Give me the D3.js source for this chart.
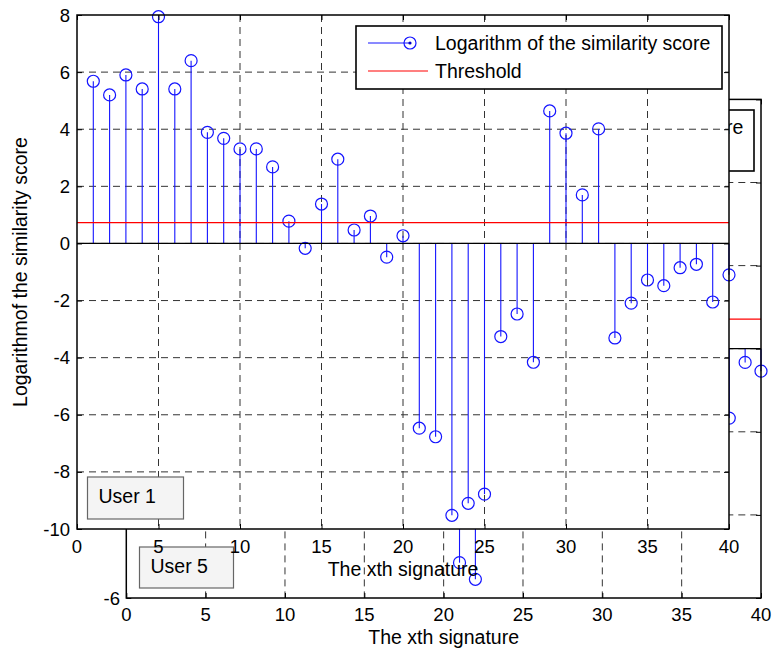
<!DOCTYPE html>
<html>
<head>
<meta charset="utf-8">
<script src="https://cdn.jsdelivr.net/npm/d3@7"></script>
<style>
  body { margin: 0; background: #fff; }
  svg { display: block; font-family: "Liberation Sans", Arial, Helvetica, sans-serif; }
  .grid line { stroke: #333; stroke-width: 1; stroke-dasharray: 7,5; }
  .tk text { font-size: 18.5px; fill: #000; }
  .tk path { display: none; }
  .tk line { stroke: #000; }
</style>
</head>
<body>
<svg id="chart" width="772" height="649"></svg>
<script>
// signature numbers and the log similarity scores (front figure, User 1)
var signatures = [1,2,3,4,5,6,7,8,9,10,11,12,13,14,15,16,17,18,19,20,
                  21,22,23,24,25,26,27,28,29,30,31,32,33,34,35,36,37,38,39,40];
var userOneScores = [5.68, 5.2, 5.9, 5.41, 7.94, 5.41, 6.4, 3.89, 3.68, 3.31,
                     3.31, 2.68, 0.78, -0.17, 1.38, 2.95, 0.47, 0.96, -0.48, 0.27,
                     -6.47, -6.77, -9.52, -9.1, -8.78, -3.26, -2.47, -4.16, 4.64, 3.86,
                     1.7, 4.01, -3.31, -2.09, -1.28, -1.48, -0.85, -0.73, -2.05, -1.1];
var userOneThreshold = 0.73;

// back figure (User 5): only the stems that show around the front figure
var userFiveSigs = [21, 22, 38, 39, 40];
var userFiveScores = [-5.15, -5.55, -1.67, -0.33, -0.54];
var userFiveThreshold = 0.71;

var xTicks = [0,5,10,15,20,25,30,35,40];
var yTicksOne = [-10,-8,-6,-4,-2,0,2,4,6,8];
var yTicksFive = [-6,-4,-2,0,2,4,6];
var legendLabels = ['Logarithm of the similarity score', 'Threshold'];

var svg = d3.select('#chart');
var blue = '#1414ff';

function drawStems(g, xs, ys, x, y) {
  var pts = xs.map(function(s, i) { return {s: s, v: ys[i]}; });
  g.selectAll('line.stem').data(pts).join('line')
    .attr('class', 'stem')
    .attr('x1', function(d) { return x(d.s); })
    .attr('x2', function(d) { return x(d.s); })
    .attr('y1', y(0))
    .attr('y2', function(d) { return y(d.v); })
    .attr('stroke', blue).attr('stroke-width', 1.1);
  g.selectAll('circle.mk').data(pts).join('circle')
    .attr('class', 'mk')
    .attr('cx', function(d) { return x(d.s); })
    .attr('cy', function(d) { return y(d.v); })
    .attr('r', 6)
    .attr('fill', 'none').attr('stroke', blue).attr('stroke-width', 1.2);
}

function drawPanel(g, x, y, yTicks, xs, ys, thr) {
  var x0 = x.range()[0], x1 = x.range()[1], yb = y.range()[0], yt = y.range()[1];
  g.append('rect').attr('x', x0).attr('y', yt)
    .attr('width', x1 - x0).attr('height', yb - yt).attr('fill', '#fff');
  var grid = g.append('g').attr('class', 'grid');
  grid.selectAll('line.v').data(xTicks.slice(1, -1)).join('line')
    .attr('class', 'v')
    .attr('x1', function(d) { return x(d); }).attr('x2', function(d) { return x(d); })
    .attr('y1', yt).attr('y2', yb);
  grid.selectAll('line.h').data(yTicks.slice(1, -1)).join('line')
    .attr('class', 'h')
    .attr('y1', function(d) { return y(d); }).attr('y2', function(d) { return y(d); })
    .attr('x1', x0).attr('x2', x1);

  drawStems(g.append('g'), xs, ys, x, y);

  g.append('line').attr('x1', x0).attr('x2', x1)
    .attr('y1', y(thr)).attr('y2', y(thr))
    .attr('stroke', '#ff0000').attr('stroke-width', 1.2);
  g.append('line').attr('x1', x0).attr('x2', x1)
    .attr('y1', y(0)).attr('y2', y(0))
    .attr('stroke', '#000').attr('stroke-width', 1.3);

  // inward tick marks on all four sides
  g.append('g').attr('class', 'tk').attr('transform', 'translate(0,' + yb + ')')
    .call(d3.axisBottom(x).tickValues(xTicks).tickSizeInner(-5).tickSizeOuter(0).tickFormat(''));
  g.append('g').attr('class', 'tk').attr('transform', 'translate(0,' + yt + ')')
    .call(d3.axisTop(x).tickValues(xTicks).tickSizeInner(-5).tickSizeOuter(0).tickFormat(''));
  g.append('g').attr('class', 'tk').attr('transform', 'translate(' + x1 + ',0)')
    .call(d3.axisRight(y).tickValues(yTicks).tickSizeInner(-5).tickSizeOuter(0).tickFormat(''));
  g.append('g').attr('class', 'tk').attr('transform', 'translate(' + x0 + ',0)')
    .call(d3.axisLeft(y).tickValues(yTicks).tickSizeInner(-5).tickSizeOuter(0).tickFormat(''));

  g.append('rect').attr('x', x0).attr('y', yt)
    .attr('width', x1 - x0).attr('height', yb - yt)
    .attr('fill', 'none').attr('stroke', '#000').attr('stroke-width', 1.5);
}

function drawLegend(g, left, top, w, h) {
  g.append('rect').attr('x', left).attr('y', top).attr('width', w).attr('height', h)
    .attr('fill', '#fff').attr('stroke', '#000').attr('stroke-width', 1.6);
  var rows = [top + 17, top + 45];
  g.append('line').attr('x1', left + 12).attr('x2', left + 54)
    .attr('y1', rows[0]).attr('y2', rows[0]).attr('stroke', blue);
  g.append('circle').attr('cx', left + 54).attr('cy', rows[0]).attr('r', 6)
    .attr('fill', 'none').attr('stroke', blue).attr('stroke-width', 1.2);
  g.append('circle').attr('cx', left + 54).attr('cy', rows[0]).attr('r', 1.6).attr('fill', '#0000cc');
  g.append('line').attr('x1', left + 12).attr('x2', left + 72)
    .attr('y1', rows[1]).attr('y2', rows[1]).attr('stroke', '#ff5555').attr('stroke-width', 1.3);
  g.selectAll('text.lg').data(legendLabels).join('text')
    .attr('class', 'lg')
    .attr('x', left + 79)
    .attr('y', function(d, i) { return rows[i] + 7; })
    .attr('font-size', 19.5)
    .text(function(d) { return d; });
}

function noteBox(g, x, y, w, h, label) {
  g.append('rect').attr('x', x).attr('y', y).attr('width', w).attr('height', h)
    .attr('fill', '#f4f4f4').attr('stroke', '#666').attr('stroke-width', 1.2);
  g.append('text').attr('x', x + 11).attr('y', y + 25.5)
    .attr('font-size', 19.5).text(label);
}

// ---- back figure: User 5 ----
var xB = d3.scaleLinear().domain([0, 40]).range([126.3, 761]);
var yB = d3.scaleLinear().domain([-6, 6]).range([598, 99.4]);
var back = svg.append('g');
drawPanel(back, xB, yB, yTicksFive, userFiveSigs, userFiveScores, userFiveThreshold);
drawLegend(back, 389, 110, 365, 61);
back.selectAll('text.xt').data(xTicks).join('text')
  .attr('class', 'xt')
  .attr('x', function(d) { return xB(d); }).attr('y', 620.5)
  .attr('text-anchor', 'middle').attr('font-size', 18.5)
  .text(function(d) { return d; });
back.append('text').attr('x', 120).attr('y', 604.5)
  .attr('text-anchor', 'end').attr('font-size', 18.5).text(yTicksFive[0]);
back.append('text').attr('x', (xB.range()[0] + xB.range()[1]) / 2).attr('y', 644)
  .attr('text-anchor', 'middle').attr('font-size', 19.5).text('The xth signature');
noteBox(back, 139.5, 547, 94, 41, 'User 5');

// ---- front figure: User 1 ----
var xF = d3.scaleLinear().domain([0, 40]).range([77, 729]);
var yF = d3.scaleLinear().domain([-10, 8]).range([529, 15]);
var front = svg.append('g');
drawPanel(front, xF, yF, yTicksOne, signatures, userOneScores, userOneThreshold);
drawLegend(front, 356, 26, 366, 63);

front.selectAll('text.xt').data(xTicks).join('text')
  .attr('class', 'xt')
  .attr('x', function(d) { return xF(d); }).attr('y', 553)
  .attr('text-anchor', 'middle').attr('font-size', 18.5)
  .text(function(d) { return d; });
front.selectAll('text.yt').data(yTicksOne).join('text')
  .attr('class', 'yt')
  .attr('x', 70).attr('y', function(d) { return yF(d) + 6.5; })
  .attr('text-anchor', 'end').attr('font-size', 18.5)
  .text(function(d) { return d; });
front.append('text').attr('x', 403).attr('y', 576)
  .attr('text-anchor', 'middle').attr('font-size', 19.5).text('The xth signature');
front.append('text')
  .attr('transform', 'translate(27,272) rotate(-90)')
  .attr('text-anchor', 'middle').attr('font-size', 19.5)
  .text('Logarithmof the similarity score');
noteBox(front, 87.5, 477, 96, 42, 'User 1');
</script>
</body>
</html>
